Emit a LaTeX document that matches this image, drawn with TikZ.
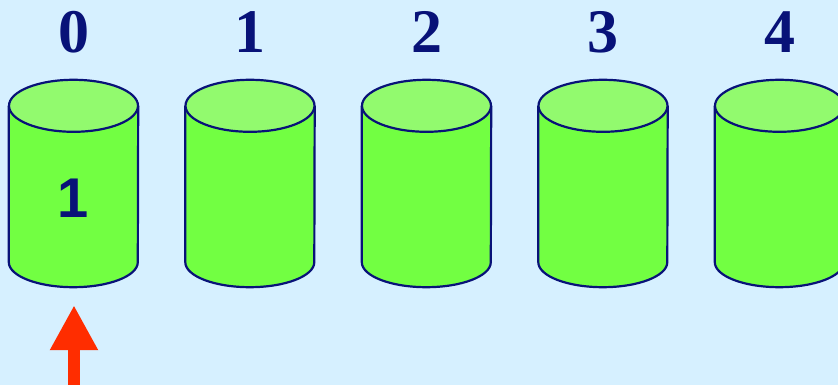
\documentclass[tikz,border=0pt]{standalone}
\usepackage{fontspec}
\setmainfont{Liberation Serif}
\setsansfont{Liberation Sans}
\usetikzlibrary{arrows.meta, positioning}
\definecolor{SkyBack}{RGB}{214, 240, 255}
\definecolor{DiskBody}{RGB}{114, 255, 66}
\definecolor{DiskTop}{RGB}{146, 250, 110}
\definecolor{DeepNavy}{RGB}{8, 18, 120}
\definecolor{PointerRed}{RGB}{255, 45, 0}

\begin{document}
\begin{tikzpicture}[x=1pt, y=1pt,
    disk/.style={rectangle, minimum width=129pt, minimum height=156pt, inner sep=0pt},
    rim/.style={draw=DeepNavy, line width=2.2pt},
    slotnum/.style={text=DeepNavy, font=\bfseries\fontsize{62}{62}\selectfont},
    diskval/.style={text=DeepNavy, font=\sffamily\bfseries\fontsize{56}{56}\selectfont}]
        \fill[SkyBack] (0,0) rectangle (838,385);
        \useasboundingbox (0,0) rectangle (838,385);
        % disks with their slot numbers
        \foreach \i in {0,...,4} {
            \node[disk] (disk\i) at (73.5+176.5*\i, 201) {};
            \path[fill=DiskBody, rim] (disk\i.north west) -- (disk\i.south west)
                arc[start angle=180, end angle=360, x radius=64.5, y radius=25] -- (disk\i.north east);
            \path[fill=DiskTop, rim] (disk\i.north) ellipse [x radius=64.5, y radius=26];
            \node[slotnum] (num\i) at (73.5+176.5*\i, 353) {\i};
        }
        \node[diskval] (val0) at (disk0.center) [yshift=-14pt] {1};
        % pointer
        \coordinate (ptr) at (74, 0);
        \draw[PointerRed, line width=12pt, -{Triangle[length=45pt, width=45pt]}, shorten >=43pt] (ptr) -- (ptr |- disk0.south);
    \end{tikzpicture}
\end{document}
